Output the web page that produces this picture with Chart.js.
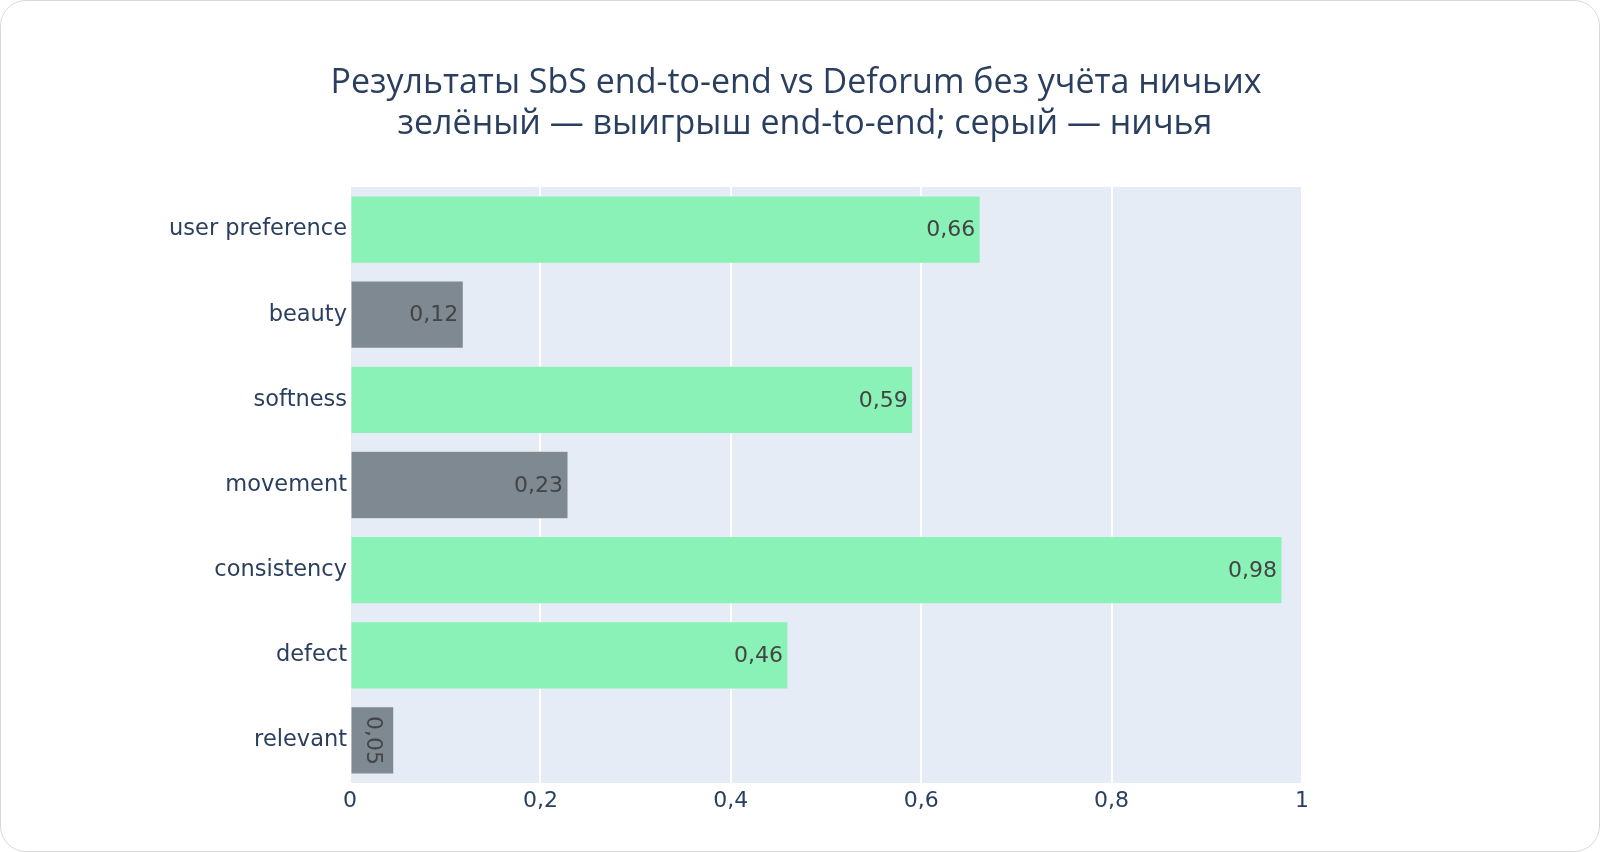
<!doctype html>
<html>
<head>
<title>SbS end-to-end vs Deforum</title>
<script src="https://cdn.jsdelivr.net/npm/chart.js@4/dist/chart.umd.min.js"></script>
<style>
    body { margin: 0; background: #fff; }
    #wrap { position: relative; width: 1600px; height: 852px; }
    #frame { position: absolute; left: 0; top: 0; width: 1600px; height: 852px; box-sizing: border-box;
             border: 1.5px solid #d8d8d8; border-radius: 26px; pointer-events: none; }
</style>
</head>

<body>
<div id="wrap">
    <canvas id="chart" width="1600" height="852"></canvas>
    <div id="frame"></div>
</div>
<script>
    const categories = ['user preference', 'beauty', 'softness', 'movement', 'consistency', 'defect', 'relevant'];
    const shares = [0.662, 0.119, 0.591, 0.229, 0.979, 0.46, 0.046];
    const outcome = ['win', 'draw', 'win', 'draw', 'win', 'win', 'draw']; // green = win, gray = draw
    const xTicks = [0, 0.2, 0.4, 0.6, 0.8, 1];
    const titleLines = ['Результаты SbS end-to-end vs Deforum без учёта ничьих',
                        'зелёный — выигрыш end-to-end; серый — ничья'];

    const GREEN = 'rgb(138, 242, 182)';
    const GRAY = 'rgb(127, 137, 146)';
    const fmt = v => String(Math.round(v * 100) / 100).replace('.', ',');

    // plot background + title
    const bgPlugin = {
        id: 'bg',
        beforeDraw(chart) {
            const {ctx, chartArea: a} = chart;
            ctx.save();
            ctx.fillStyle = '#e5ecf6';
            ctx.fillRect(a.left, a.top, a.right - a.left, a.bottom - a.top);
            ctx.fillStyle = '#2a3f5f';
            ctx.font = '34px "Open Sans"';
            ctx.textAlign = 'center';
            ctx.textBaseline = 'middle';
            ctx.fillText(titleLines[0], 796, 83);
            ctx.fillText(titleLines[1], 805, 124);
            ctx.restore();
        }
    };

    // value labels inside the bar ends
    const labelPlugin = {
        id: 'vals',
        afterDatasetsDraw(chart) {
            const ctx = chart.ctx;
            const meta = chart.getDatasetMeta(0);
            ctx.save();
            ctx.font = '22px "DejaVu Sans"';
            ctx.fillStyle = '#444';
            meta.data.forEach((bar, i) => {
                const txt = fmt(shares[i]);
                const w = ctx.measureText(txt).width;
                if (bar.x - bar.base > w + 10) {
                    ctx.textAlign = 'right';
                    ctx.textBaseline = 'middle';
                    ctx.fillText(txt, bar.x - 5, bar.y + 1);
                } else {
                    ctx.save();
                    ctx.translate((bar.x + bar.base) / 2, bar.y);
                    ctx.rotate(Math.PI / 2);
                    ctx.textAlign = 'center';
                    ctx.textBaseline = 'middle';
                    ctx.fillText(txt, 0, 0);
                    ctx.restore();
                }
            });
            ctx.restore();
        }
    };

    const ctx = document.getElementById('chart');
    new Chart(ctx, {
        type: 'bar',
        data: {
            labels: categories,
            datasets: [{
                data: shares,
                backgroundColor: outcome.map(o => o === 'win' ? GREEN : GRAY),
                borderColor: '#e5ecf6',
                borderWidth: 0.5,
                borderSkipped: false,
                categoryPercentage: 0.79,
                barPercentage: 1
            }]
        },
        options: {
            indexAxis: 'y',
            responsive: false,
            animation: false,
            layout: { padding: { top: 187, right: 298, left: 0, bottom: 0 } },
            plugins: {
                legend: { display: false },
                tooltip: { enabled: false }
            },
            scales: {
                x: {
                    min: 0,
                    max: 1,
                    afterBuildTicks: axis => { axis.ticks = xTicks.map(v => ({value: v})); },
                    afterFit: axis => { axis.height = 69; },
                    border: { display: false },
                    grid: { color: '#ffffff', lineWidth: 2, drawTicks: false },
                    ticks: {
                        padding: 5,
                        color: '#2a3f5f',
                        font: { family: 'DejaVu Sans', size: 22 },
                        callback: v => fmt(v)
                    }
                },
                y: {
                    afterFit: axis => { axis.width = 350; },
                    border: { display: false },
                    grid: { display: false, drawTicks: false },
                    ticks: {
                        padding: 3,
                        color: '#2a3f5f',
                        font: { family: 'DejaVu Sans', size: 22.5 }
                    }
                }
            }
        },
        plugins: [bgPlugin, labelPlugin]
    });
</script>

</body>
</html>
